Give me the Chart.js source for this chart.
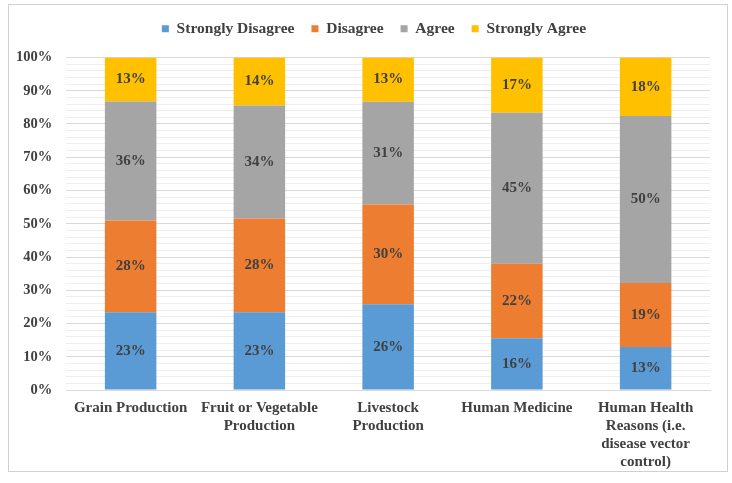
<!DOCTYPE html>
<html>
<head>
<meta charset="utf-8">
<script src="https://cdn.jsdelivr.net/npm/chart.js@4.4.0/dist/chart.umd.min.js"></script>
<style>
  html, body { margin: 0; padding: 0; background: #fff; }
  #wrap { position: relative; width: 732px; height: 483px; }
  #frame { position: absolute; left: 8px; top: 4px; width: 718px; height: 466px;
           border: 1px solid #d0d0d0; pointer-events: none; }
</style>
</head>
<body>
<div id="wrap">
  <canvas id="chart" width="732" height="483"></canvas>
  <div id="frame"></div>
</div>
<script>
// categories and series (percent of respondents)
const categories = [
    'Grain Production',
    ['Fruit or Vegetable', 'Production'],
    ['Livestock', 'Production'],
    'Human Medicine',
    ['Human Health', 'Reasons (i.e.', 'disease vector', 'control)']
];
const stronglyDisagree = [23.4, 23.4, 25.8, 15.6, 12.9];
const disagree         = [27.6, 28.2, 30.0, 22.4, 19.3];
const agree            = [35.8, 34.0, 30.9, 45.4, 50.2];
const stronglyAgree    = [13.2, 14.4, 13.3, 16.6, 17.6];

const yTicks = [0, 10, 20, 30, 40, 50, 60, 70, 80, 90, 100];

const textColor = '#404040';
const serif = "'Liberation Serif', 'Times New Roman', serif";

// draw the rounded value in the middle of each bar segment
const segmentLabels = {
    id: 'segmentLabels',
    afterDatasetsDraw(chart) {
        const ctx = chart.ctx;
        ctx.save();
        ctx.font = 'bold 15px ' + serif;
        ctx.fillStyle = textColor;
        ctx.textAlign = 'center';
        ctx.textBaseline = 'middle';
        chart.data.datasets.forEach((ds, i) => {
            const meta = chart.getDatasetMeta(i);
            meta.data.forEach((bar, j) => {
                const p = bar.getCenterPoint();
                ctx.fillText(Math.round(ds.data[j]) + '%', p.x, p.y);
            });
        });
        ctx.restore();
    }
};

// extra room below the legend, and centre it over the plot instead of the canvas
const legendMargin = {
    id: 'legendMargin',
    beforeInit(chart) {
        const fit = chart.legend.fit;
        chart.legend.fit = function () {
            fit.bind(chart.legend)();
            this.height += 11;
        };
    },
    afterLayout(chart) {
        chart.legend.left += 18;
        chart.legend.right += 18;
    }
};

new Chart(document.getElementById('chart').getContext('2d'), {
    type: 'bar',
    data: {
        labels: categories,
        datasets: [
            { label: 'Strongly Disagree', data: stronglyDisagree, backgroundColor: '#5b9bd5' },
            { label: 'Disagree', data: disagree, backgroundColor: '#ed7d31' },
            { label: 'Agree', data: agree, backgroundColor: '#a5a5a5' },
            { label: 'Strongly Agree', data: stronglyAgree, backgroundColor: '#ffc000' }
        ]
    },
    options: {
        responsive: false,
        animation: false,
        datasets: { bar: { barPercentage: 0.4, categoryPercentage: 1.0 } },
        layout: { padding: { left: 2, right: 22, top: 4, bottom: 3 } },
        plugins: {
            tooltip: { enabled: false },
            legend: {
                position: 'top',
                labels: {
                    boxWidth: 7,
                    boxHeight: 7,
                    padding: 17,
                    color: textColor,
                    font: { family: serif, size: 15.5, weight: 'bold' }
                }
            }
        },
        scales: {
            x: {
                stacked: true,
                grid: { display: false, drawTicks: false },
                border: { display: true, color: '#d9d9d9' },
                ticks: {
                    maxRotation: 0,
                    autoSkip: false,
                    padding: 9,
                    color: textColor,
                    font: { family: serif, size: 15, weight: 'bold', lineHeight: 1.2 }
                }
            },
            y: {
                stacked: true,
                min: 0,
                max: 100,
                border: { display: false },
                grid: {
                    drawTicks: false,
                    color: c => (yTicks.includes(c.tick.value) ? '#d9d9d9' : '#eeeeee')
                },
                ticks: {
                    stepSize: 2,
                    maxTicksLimit: 100,
                    autoSkip: false,
                    padding: 14,
                    color: textColor,
                    font: { family: serif, size: 14.5, weight: 'bold' },
                    callback: v => (yTicks.includes(v) ? v + '%' : '')
                }
            }
        }
    },
    plugins: [segmentLabels, legendMargin]
});
</script>
</body>
</html>
